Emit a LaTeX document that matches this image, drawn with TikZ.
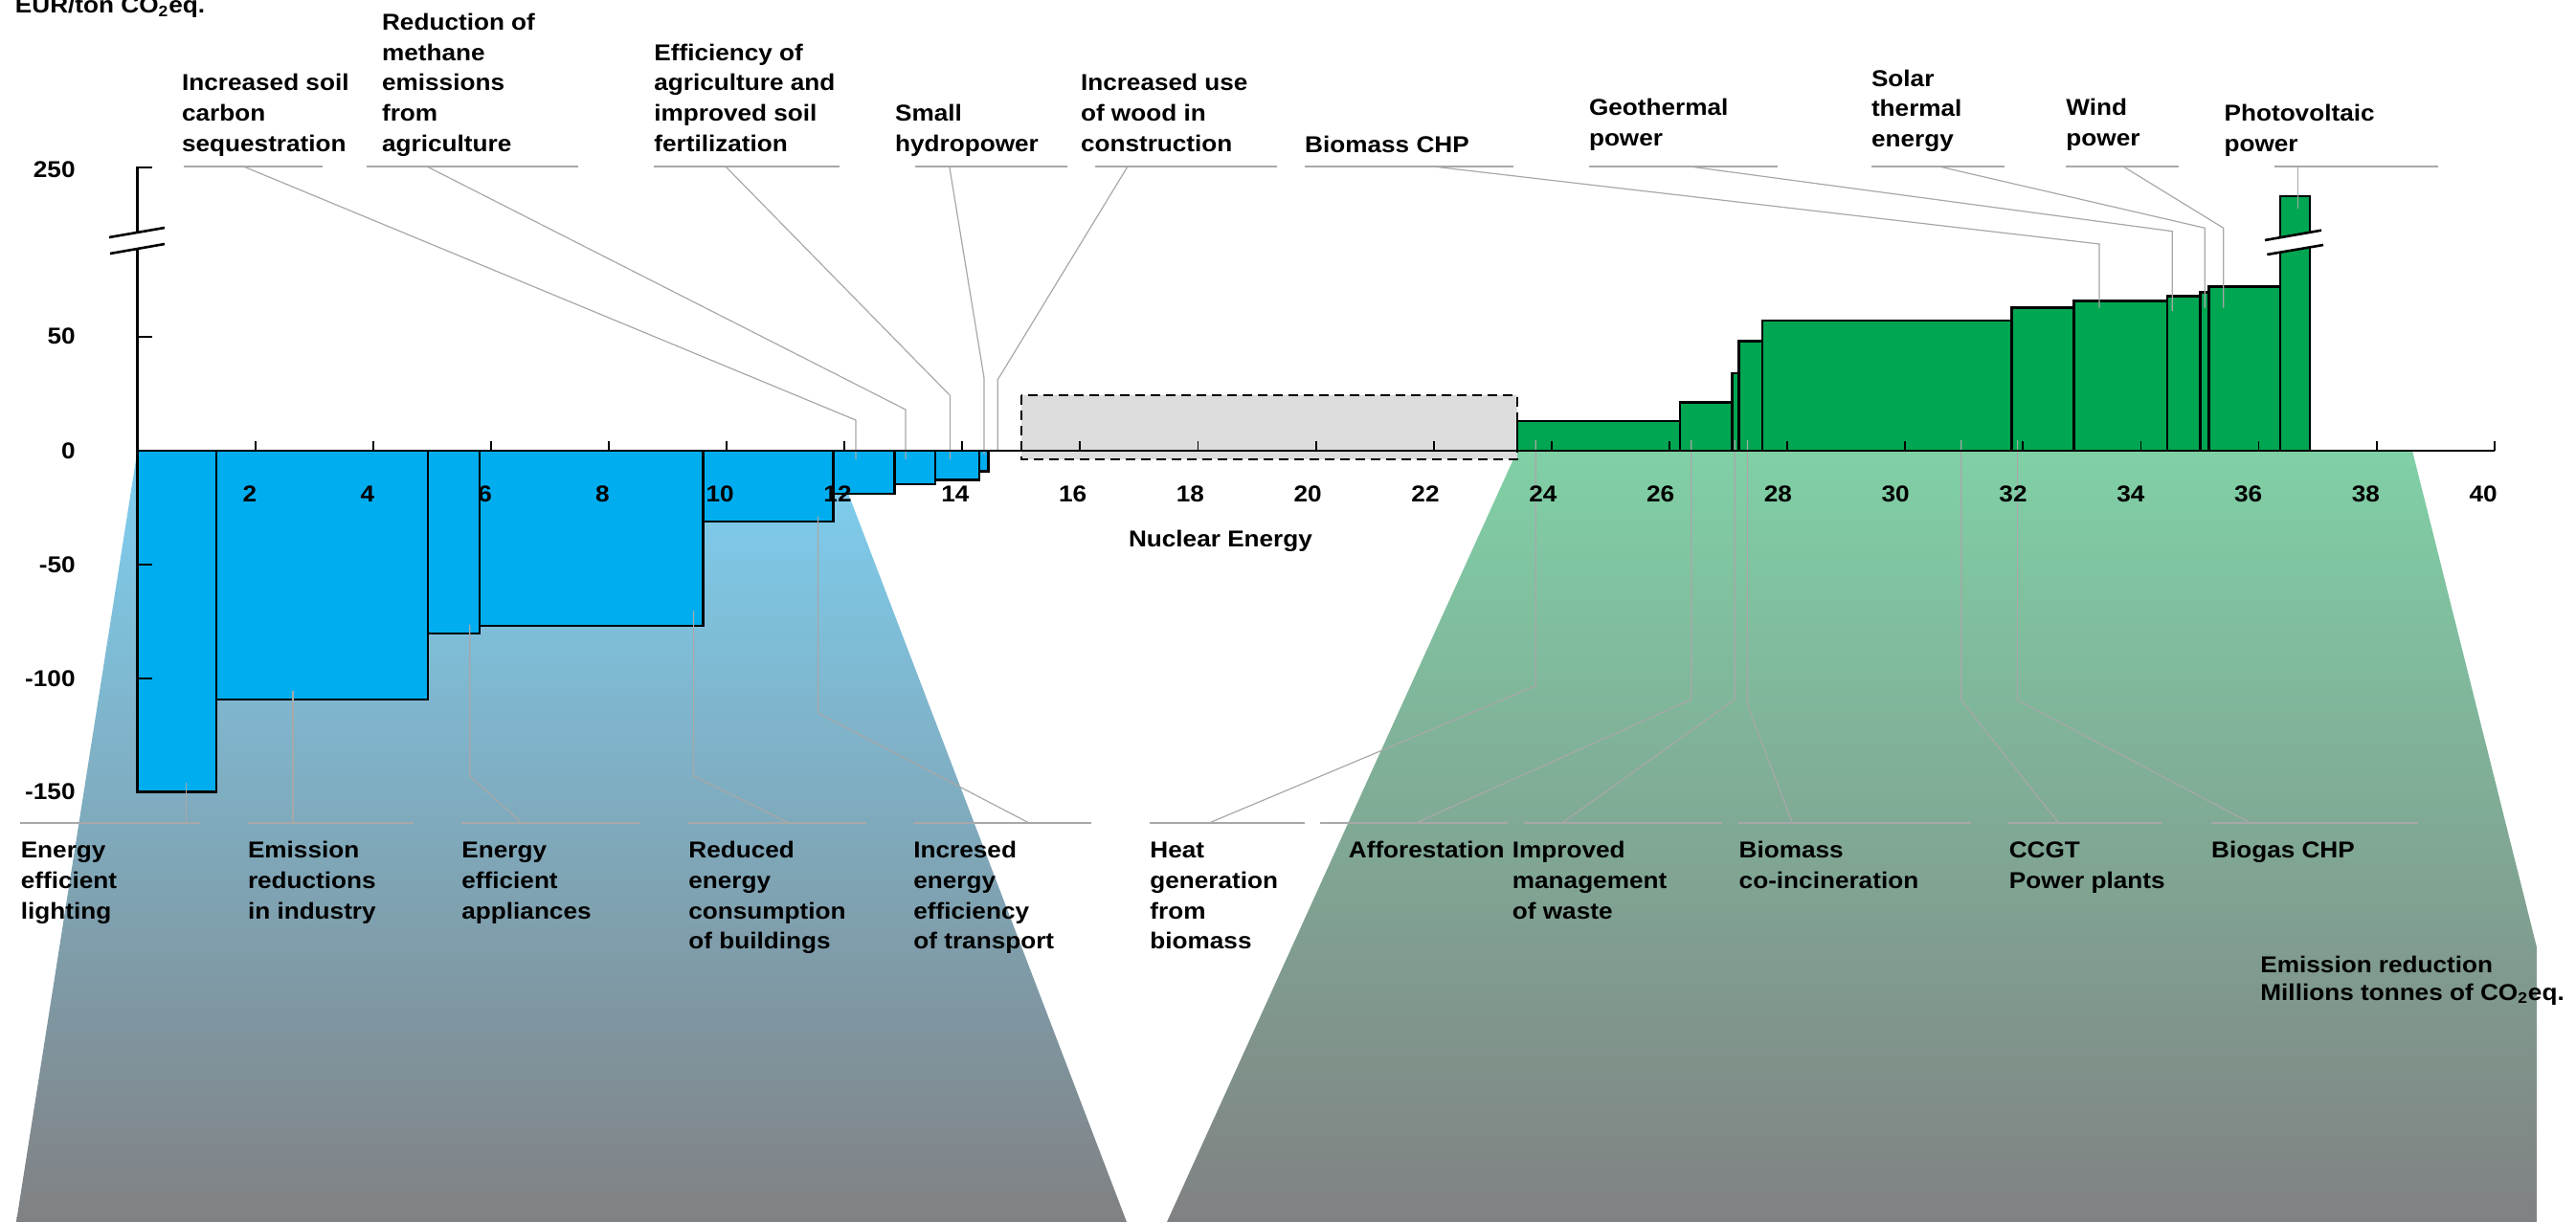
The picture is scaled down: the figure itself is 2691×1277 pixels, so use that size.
\documentclass[tikz,border=0pt]{standalone}
\usepackage{fontspec}
\setmainfont{Liberation Sans}[FakeStretch=1.09]
\definecolor{cblue}{HTML}{00AEEF}
\definecolor{cgreen}{HTML}{00A651}
\definecolor{nucgrey}{HTML}{DCDCDC}
\definecolor{leadc}{HTML}{A8A8A8}
\definecolor{bluetop}{RGB}{126,208,242}
\definecolor{greentop}{RGB}{128,208,166}
\definecolor{fadebot}{RGB}{128,129,131}
\newcommand\lblfont{\fontsize{12pt}{15.85pt}\selectfont\bfseries}
\begin{document}
\begin{tikzpicture}[x=0.5pt,y=-0.5pt,
  lbl/.style={inner sep=0pt, anchor=base west, align=left, font=\lblfont},
  barbox/.style={draw=black, line width=1.25pt},
  leader/.style={draw=leadc, line width=0.6pt},
  axisline/.style={line width=1.3pt, draw=black},
  tickmark/.style={line width=0.9pt, draw=black}]
\useasboundingbox (0,0) rectangle (2691,1277);
% fading trapezoids
\shade[top color=bluetop, bottom color=fadebot] (143.5,471) -- (869,471) -- (1177,1277) -- (17,1277) -- cycle;
\shade[top color=greentop, bottom color=fadebot] (1585,471) -- (2520,471) -- (2650,990) -- (2650,1277) -- (1219,1277) -- cycle;
% nuclear box
\draw[fill=nucgrey, dash pattern=on 5pt off 3pt, line width=1.2pt] (1067,413.3) rectangle (1585,480);
% blue bars
\foreach \a/\b/\c in {143.5/226/827.7, 226/447/731, 447/501/662, 501/734.5/654, 734.5/870.6/545, 870.6/934.4/516, 934.4/977.2/506, 977.2/1022.8/501.7, 1022.8/1032.6/492.3}
  \draw[barbox, fill=cblue] (\a,471) rectangle (\b,\c);
% green bars
\foreach \a/\b/\c in {1585/1755/440, 1755/1809.4/420.7, 1809.4/1816.3/390, 1816.3/1841/356.7, 1841/2101.4/335, 2101.4/2166.5/321.3, 2166.5/2263.8/314.3, 2263.8/2298.6/309.5, 2298.6/2307.6/305.5, 2307.6/2382/299.3, 2382/2413/205}
  \draw[barbox, fill=cgreen] (\a,471) rectangle (\b,\c);
% break on photovoltaic bar
\fill[white] (2366,251) -- (2425,240.7) -- (2427,256) -- (2368.3,266) -- cycle;
\draw[line width=1.3pt] (2366,251) -- (2425,240.7);
\draw[line width=1.3pt] (2368.3,266) -- (2427,256);
% top leaders
\foreach \n/\xl/\xr/\xa/\xb/\yb/\yc in {soil/192/337/254.5/894/439/480, meth/383/603.6/446/946/428/480, effi/683/877/758/992.4/413.3/480, hydro/956/1115/991.8/1028/395/475, wood/1144/1333.7/1178/1042.3/396.7/470, bchp/1362.8/1581/1497/2193/255/321.7, geo/1659.6/1857/1765/2269.3/241.7/325, solar/1954.6/2094/2025.6/2303.3/238.3/321.7, wind/2158/2276/2218/2322.7/238.3/321.7, pv/2376/2547/2400.7/2400.7/218.3/218.3} {
  \coordinate (\n-l) at (\xl,174); \coordinate (\n-r) at (\xr,174);
  \coordinate (\n-a) at (\xa,174); \coordinate (\n-b) at (\xb,\yb); \coordinate (\n-c) at (\xb,\yc);
  \draw[leader] (\n-l) -- (\n-r);
  \draw[leader] (\n-a) -- (\n-b) -- (\n-c);
}
% bottom leaders
\foreach \n/\xl/\xr/\xa/\xb/\yb/\yc in {light/21.4/209/194.5/194.5/818/818, indu/258.6/432.3/306/306/721.7/721.7, appl/482/668/545/490.7/811/653, build/719/905/824/724.6/811/638, trans/954/1140/1075/854.4/745/540, heat/1201/1363/1263/1604.3/716.7/460, affo/1379/1574.6/1479/1766.7/731/460, waste/1592/1798.6/1631.6/1812.3/731/460, coinc/1816/2059/1872.4/1825.5/736.7/460, ccgt/2098/2257.6/2150.5/2048.7/731.7/460, biog/2309.7/2526/2351/2107.6/731.7/460} {
  \coordinate (\n-l) at (\xl,860); \coordinate (\n-r) at (\xr,860);
  \coordinate (\n-a) at (\xa,860); \coordinate (\n-b) at (\xb,\yb); \coordinate (\n-c) at (\xb,\yc);
  \draw[leader] (\n-l) -- (\n-r);
  \draw[leader] (\n-a) -- (\n-b) -- (\n-c);
}
% axes
\draw[axisline] (143.5,471) -- (2605.7,471);
\draw[axisline] (143.5,828) -- (143.5,260);
\draw[axisline] (143.5,243) -- (143.5,175) -- (158.5,175);
\draw[line width=1.3pt] (114,248) -- (172,238);
\draw[line width=1.3pt] (115,265) -- (172,255);
\foreach \y in {351.7,590,709,827.7} \draw[tickmark] (143.5,\y) -- (158.5,\y);
\foreach \v in {2,4,...,40} {
  \draw[tickmark] ({143.5+61.555*\v},471) -- ({143.5+61.555*\v},461);
  \node[anchor=base, inner sep=0pt, font=\lblfont] (xl\v) at ({138.2+61.4*\v},524.3) {\v};
}
% y labels
\foreach \t/\y in {250/177, 50/351.7, 0/471, -50/590, -100/709, -150/827.7}
  \node[anchor=east, inner sep=0pt, font=\lblfont] (yl\t) at (79,\y) {\t};
\node[lbl] (unit) at (15.6,13.5) {EUR/ton CO\textsubscript{2}eq.};
\node[anchor=base, inner sep=0pt, font=\lblfont] (nuc) at (1275,571.5) {Nuclear Energy};
% top labels (anchor = baseline of last line)
\node[lbl] (Lsoil) at (189.7,158.3) {Increased soil\\carbon\\sequestration};
\node[lbl] (Lmeth) at (398.7,158.3) {Reduction of\\methane\\emissions\\from\\agriculture};
\node[lbl] (Leffi) at (683,158.3) {Efficiency of\\agriculture and\\improved soil\\fertilization};
\node[lbl] (Lhydro) at (934.7,158.3) {Small\\hydropower};
\node[lbl] (Lwood) at (1128.6,158.3) {Increased use\\of wood in\\construction};
\node[lbl] (Lbchp) at (1362.8,160) {Biomass CHP};
\node[lbl] (Lgeo) at (1659.6,152.7) {Geothermal\\power};
\node[lbl] (Lsolar) at (1954.6,153.5) {Solar\\thermal\\energy};
\node[lbl] (Lwind) at (2158,152.7) {Wind\\power};
\node[lbl] (Lpv) at (2323.2,158.7) {Photovoltaic\\power};
% bottom labels (anchor = baseline of last line)
\node[lbl] (Llight) at (21.4,960.1) {Energy\\efficient\\lighting};
\node[lbl] (Lindu) at (258.6,960.1) {Emission\\reductions\\in industry};
\node[lbl] (Lappl) at (482,960.1) {Energy\\efficient\\appliances};
\node[lbl] (Lbuild) at (719,991.8) {Reduced\\energy\\consumption\\of buildings};
\node[lbl] (Ltrans) at (954,991.8) {Incresed\\energy\\efficiency\\of transport};
\node[lbl] (Lheat) at (1201,991.8) {Heat\\generation\\from\\biomass};
\node[lbl] (Laffo) at (1408.5,896.7) {Afforestation};
\node[lbl] (Lwaste) at (1579.5,960.1) {Improved\\management\\of waste};
\node[lbl] (Lcoinc) at (1816.3,928.4) {Biomass\\co-incineration};
\node[lbl] (Lccgt) at (2098.4,928.4) {CCGT\\Power plants};
\node[lbl] (Lbiog) at (2309.7,896.7) {Biogas CHP};
\node[inner sep=0pt, anchor=base west, align=left, font=\fontsize{12pt}{14.5pt}\selectfont\bfseries] (Lred) at (2361,1045) {Emission reduction\\Millions tonnes of CO\textsubscript{2}eq.};
\end{tikzpicture}
\end{document}
